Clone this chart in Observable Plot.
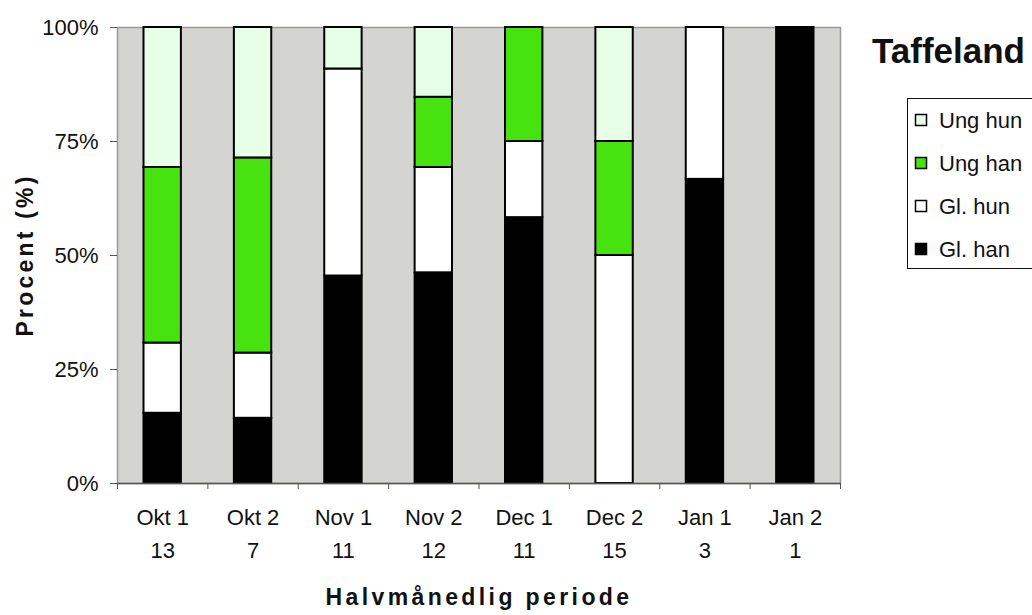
<!DOCTYPE html>
<html>
<head>
<meta charset="utf-8">
<script src="https://cdn.jsdelivr.net/npm/d3@7"></script>
<script src="https://cdn.jsdelivr.net/npm/@observablehq/plot@0.6"></script>
<style>
  html, body { margin: 0; padding: 0; background: white; overflow: hidden; }
  #chart { width: 1032px; height: 615px; }
</style>
</head>
<body>
<div id="chart"></div>
<script>
// ---- data ----
const categories = ["Okt 1", "Okt 2", "Nov 1", "Nov 2", "Dec 1", "Dec 2", "Jan 1", "Jan 2"];
const sampleSizes = [13, 7, 11, 12, 11, 15, 3, 1];
const series = ["Gl. han", "Gl. hun", "Ung han", "Ung hun"];
const glHan  = [15.4, 14.3, 45.5, 46.2, 58.3,  0, 66.7, 100];
const glHun  = [15.4, 14.3, 45.4, 23.1, 16.7, 50, 33.3,   0];
const ungHan = [38.5, 42.8,  0.0, 15.4, 25.0, 25,  0.0,   0];
const ungHun = [30.7, 28.6,  9.1, 15.3,  0.0, 25,  0.0,   0];
const yTicks = [0, 25, 50, 75, 100];
const seriesColors = ["#000000", "#ffffff", "#46e30e", "#e6ffe6"];
const legendOrder = ["Ung hun", "Ung han", "Gl. hun", "Gl. han"];

const valuesBySeries = [glHan, glHun, ungHan, ungHun];
const rows = [];
categories.forEach((c, i) => {
  let acc = 0;
  series.forEach((s, k) => {
    const v = valuesBySeries[k][i];
    if (v > 0) rows.push({cat: c, x1: i, x2: i + 1, y1: acc, y2: acc + v, series: s});
    acc += v;
  });
});

const font = "'Liberation Sans', Arial, Helvetica, sans-serif";

const chart = Plot.plot({
  width: 1032,
  height: 615,
  marginLeft: 117,
  marginRight: 192,
  marginTop: 27,
  marginBottom: 132,
  style: {fontFamily: font, fontSize: "22px", background: "white", color: "#111"},
  x: {domain: [0, categories.length], axis: null},
  y: {domain: [0, 100], axis: null},
  color: {domain: series, range: seriesColors},
  marks: [
    Plot.frame({fill: "#d4d4d0", stroke: "#999", strokeWidth: 1.5}),
    Plot.rect(rows, {
      x1: "x1", x2: "x2", y1: "y1", y2: "y2",
      fill: "series", stroke: "black", strokeWidth: 2,
      insetLeft: 26.5, insetRight: 26.5
    }),
    Plot.ruleY([0], {stroke: "#555", strokeWidth: 1.5}),
    Plot.axisY({ticks: yTicks, tickFormat: d => d + "%", tickSize: 7, tickPadding: 12,
                fontSize: 22, label: null, stroke: "#555"}),
    Plot.axisX({ticks: d3.range(categories.length + 1), tickFormat: () => "", tickSize: 6,
                label: null, stroke: "#555"}),
    Plot.text(categories, {
      x: (d, i) => i + 0.5,
      frameAnchor: "bottom",
      text: (d, i) => d + "\n" + sampleSizes[i],
      lineAnchor: "top",
      dy: 18,
      lineHeight: 1.5,
      fontSize: 22,
      fill: "#111"
    })
  ]
});

document.getElementById("chart").appendChild(chart);

// ---- titles and legend ----
const svg = d3.select(chart);
svg.append("text")
  .attr("x", 479).attr("y", 605)
  .attr("text-anchor", "middle")
  .style("font-family", font).style("font-size", "23px").style("font-weight", "bold")
  .style("letter-spacing", "3.4px")
  .attr("fill", "#111")
  .text("Halvmånedlig periode");

svg.append("text")
  .attr("transform", "translate(33,255) rotate(-90)")
  .attr("text-anchor", "middle")
  .style("font-family", font).style("font-size", "23px").style("font-weight", "bold")
  .style("letter-spacing", "3.2px")
  .attr("fill", "#111")
  .text("Procent (%)");

svg.append("text")
  .attr("x", 872).attr("y", 63)
  .attr("text-anchor", "start")
  .style("font-family", font).style("font-size", "35px").style("font-weight", "bold")
  .attr("fill", "#111")
  .text("Taffeland");

const lg = svg.append("g");
lg.append("rect")
  .attr("x", 907.5).attr("y", 98.5).attr("width", 200).attr("height", 170)
  .attr("fill", "white").attr("stroke", "#111").attr("stroke-width", 1);
legendOrder.forEach((name, j) => {
  const cy = 120 + j * 43;
  lg.append("rect")
    .attr("x", 915.5).attr("y", cy - 5.5).attr("width", 11).attr("height", 11)
    .attr("fill", seriesColors[series.indexOf(name)])
    .attr("stroke", "black").attr("stroke-width", 1.5);
  lg.append("text")
    .attr("x", 939).attr("y", cy + 8)
    .attr("text-anchor", "start")
    .style("font-family", font).style("font-size", "22px")
    .attr("fill", "#111")
    .text(name);
});
</script>
</body>
</html>
